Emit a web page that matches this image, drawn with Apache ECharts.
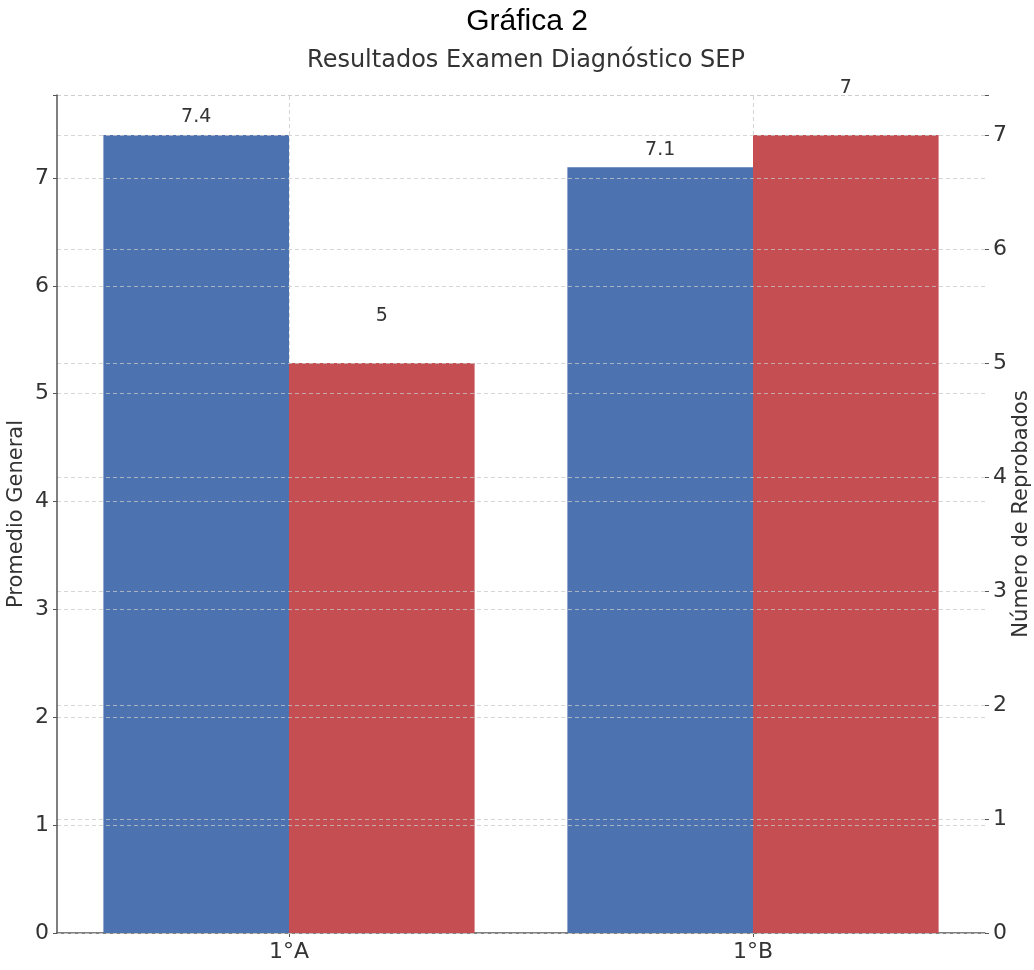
<!DOCTYPE html>
<html>
<head>
<meta charset="utf-8">
<script src="https://cdn.jsdelivr.net/npm/echarts@6/dist/echarts.min.js"></script>
<style>
html,body{margin:0;padding:0;background:#fff;}
#chart{width:1034px;height:970px;}
</style>
</head>
<body>
<div id="chart"></div>
<script>
const categories = ['1°A', '1°B'];
const promedioGeneral = [7.4, 7.1];
const numeroReprobados = [5, 7];
const leftTicks = [0, 1, 2, 3, 4, 5, 6, 7];
const rightTicks = [0, 1, 2, 3, 4, 5, 6, 7];

const FONT = "'DejaVu Sans', sans-serif";
const gridLine = { show: true, lineStyle: { color: 'rgba(200,200,200,0.75)', type: [4, 3], width: 1 } };

const chart = echarts.init(document.getElementById('chart'), null, { renderer: 'canvas' });
chart.setOption({
  animation: false,
  backgroundColor: '#ffffff',
  title: [
    { text: 'Gráfica 2', left: 522, top: 2, textAlign: 'center',
      textStyle: { fontFamily: "'Liberation Sans', Arial, sans-serif", fontWeight: 'normal', fontSize: 30, color: '#000' } },
    { text: 'Resultados Examen Diagnóstico SEP', left: 521, top: 44, textAlign: 'center',
      textStyle: { fontFamily: FONT, fontWeight: 'normal', fontSize: 24, color: '#333' } }
  ],
  grid: { left: 57, right: 49, top: 95, bottom: 37, containLabel: false, outerBoundsMode: 'none' },
  xAxis: {
    type: 'category', data: categories,
    axisLine: { show: true, lineStyle: { color: '#555', width: 1.5 } },
    axisTick: { show: true, alignWithLabel: true, length: 4, lineStyle: { color: '#555' } },
    axisLabel: { fontFamily: FONT, fontSize: 22, color: '#333', margin: 8 },
    splitLine: { show: false }
  },
  yAxis: [
    { type: 'value', min: 0, max: 7.77, interval: 1, z: 5,
      name: 'Promedio General', nameLocation: 'middle', nameGap: 30, nameRotate: 90, nameMoveOverlap: false,
      nameTextStyle: { fontFamily: FONT, fontSize: 21, color: '#333' },
      axisLine: { show: true, lineStyle: { color: '#555', width: 1.5 } },
      axisTick: { show: true, length: 4, lineStyle: { color: '#555' } },
      axisLabel: { fontFamily: FONT, fontSize: 22, color: '#333', margin: 8,
        formatter: v => leftTicks.includes(v) ? String(v) : '' },
      splitLine: gridLine },
    { type: 'value', min: 0, max: 7.35, interval: 1, z: 5, position: 'right',
      name: 'Número de Reprobados', nameLocation: 'middle', nameGap: 26, nameRotate: 90, nameMoveOverlap: false,
      nameTextStyle: { fontFamily: FONT, fontSize: 21, color: '#333' },
      axisLine: { show: false },
      axisTick: { show: true, length: 4, lineStyle: { color: '#555' } },
      axisLabel: { fontFamily: FONT, fontSize: 22, color: '#333', margin: 8,
        formatter: v => rightTicks.includes(v) ? String(v) : '' },
      splitLine: gridLine }
  ],
  series: [
    { name: 'centros', type: 'line', yAxisIndex: 0, data: [], z: 1, silent: true,
      markLine: { silent: true, symbol: 'none', label: { show: false }, z: 1,
        lineStyle: { color: 'rgba(200,200,200,0.75)', type: [4, 3], width: 1 },
        data: categories.map(c => ({ xAxis: c })) } },
    { name: 'Promedio General', type: 'bar', yAxisIndex: 0, data: promedioGeneral,
      barWidth: '40%', barGap: '0%', z: 2,
      itemStyle: { color: '#4C72B0' },
      label: { show: true, position: 'top', distance: 8, fontFamily: FONT, fontSize: 19, color: '#333' } },
    { name: 'Número de Reprobados', type: 'bar', yAxisIndex: 1, data: numeroReprobados,
      barWidth: '40%', barGap: '0%', z: 2,
      itemStyle: { color: '#C44E52' },
      label: { show: true, position: 'top', distance: 37, fontFamily: FONT, fontSize: 19, color: '#333' } }
  ]
});
</script>
</body>
</html>
